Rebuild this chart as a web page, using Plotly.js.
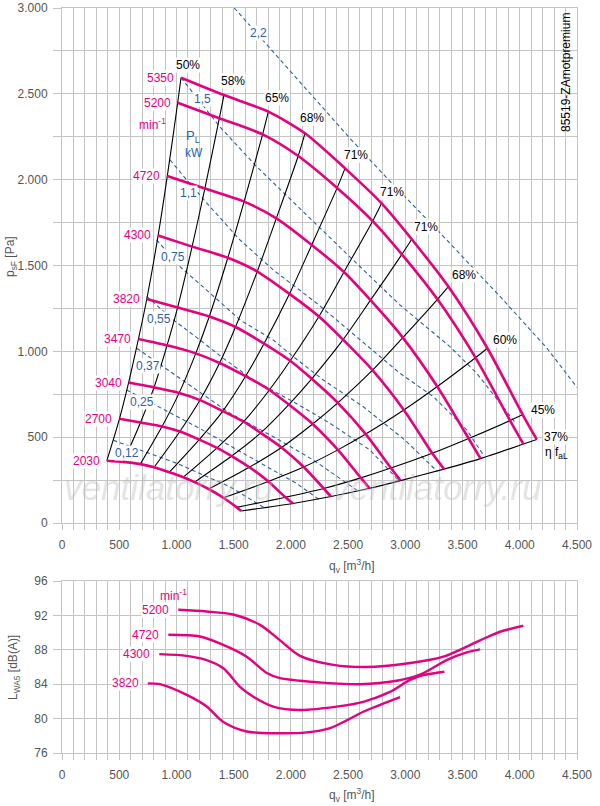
<!DOCTYPE html>
<html><head><meta charset="utf-8">
<script src="https://cdn.plot.ly/plotly-3.0.1.min.js"></script>
<style>html,body{margin:0;padding:0;background:#fff}</style>
</head><body><div id="chart" style="width:600px;height:806px"></div>
<script>
// ---- speed curves (top chart), points at the efficiency-line intersections ----
const speeds = ['5350','5200','4720','4300','3820','3470','3040','2700','2030'];
const q5350 = [1040,1415,1803,2123,2473,2793,3056,3376,3717,4025,4148];
const p5350 = [2594,2493,2396,2270,2066,1862,1653,1377,1018,632,487];
const q5200 = [1011,1375,1753,2064,2404,2715,2970,3281,3613,3915,4032];
const p5200 = [2448,2358,2264,2138,1952,1759,1565,1303,963,597,460];
const q4720 = [920,1248,1591,1873,2182,2464,2696,2978,3279,3553,3657];
const p4720 = [2021,1948,1872,1775,1620,1462,1298,1080,795,492,375];
const q4300 = [840,1137,1449,1706,1988,2245,2456,2713,2987,3235,3338];
const p4300 = [1675,1610,1545,1465,1335,1203,1068,890,658,406,314];
const q3820 = [741,1010,1287,1516,1766,1994,2182,2410,2654,2874,2958];
const p3820 = [1305,1255,1203,1142,1045,945,840,700,518,320,247];
const q3470 = [668,918,1169,1377,1604,1812,1982,2190,2411,2611,2688];
const p3470 = [1072,1035,988,932,855,775,690,577,426,263,202];
const q3040 = [582,804,1024,1206,1405,1587,1736,1918,2112,2287,2350];
const p3040 = [818,790,758,716,652,590,525,440,326,201,154];
const q2700 = [502,686,874,1030,1199,1355,1482,1637,1803,1952,2018];
const p2700 = [607,585,562,533,486,438,390,325,242,150,114];
const q2030 = [392,537,684,805,938,1060,1159,1281,1410,1527,1566];
const p2030 = [363,356,343,325,296,267,238,198,147,91,70];
const speedQ = [q5350,q5200,q4720,q4300,q3820,q3470,q3040,q2700,q2030];
const speedP = [p5350,p5200,p4720,p4300,p3820,p3470,p3040,p2700,p2030];

// ---- efficiency lines labels (one per intersection column) ----
const effLabels = ['50%','58%','65%','68%','71%','71%','71%','68%','60%','45%','37%'];
const effLabelQ = [1101,1494,1879,2185,2569,2884,3181,3513,3871,4203,4317];
const effLabelP = [2668,2575,2476,2359,2144,1928,1724,1445,1066,658,501];

// ---- power lines P_L [kW] ----
const powLabels = ['2,2','1,5','1,1','0,75','0,55','0,37','0,25','0,12'];
const pw22q = [1505,2080,2517,2866,3303,3827,4235,4500];
const pw22p = [3000,2565,2240,1990,1690,1320,1020,790];
const pw15q = [1040,1381,1701,2080,2500,2953,3390,3624,3827,3960];
const pw15p = [2594,2307,2076,1830,1560,1270,1027,872,698,585];
const pw11q = [944,1090,1293,1555,1846,2226,2953,3245,3537,3682];
const pw11p = [2115,1998,1843,1649,1474,1280,872,736,542,396];
const pw075q = [827,1031,1264,1555,1846,2021,2283,2633,2997,3128,3280];
const pw075p = [1649,1493,1357,1183,1066,969,833,677,483,400,300];
const pw055q = [740,973,1206,1410,1672,2051,2342,2691,2939];
const pw055p = [1320,1183,1066,959,833,695,581,425,250];
const pw037q = [653,1000,1468,1846,2196,2575];
const pw037p = [1018,857,639,503,367,192];
const pw025q = [565,900,1206,1468,1789,2051,2260];
const pw025p = [775,655,550,450,330,230,130];
const pw012q = [448,1002,1468,1774];
const pw012p = [482,348,211,86];
const powQ = [pw22q,pw15q,pw11q,pw075q,pw055q,pw037q,pw025q,pw012q];
const powP = [pw22p,pw15p,pw11p,pw075p,pw055p,pw037p,pw025p,pw012p];
const powLabelQ = [1713,1224,1101,970,850,753,695,566];
const powLabelP = [2854,2470,1922,1550,1188,914,705,408];

// ---- sound power (bottom chart) ----
const lwSpeeds = ['5200','4720','4300','3820'];
const qL5200 = [1016,1264,1497,1730,1905,2080,2371,2662,3012,3332,3653,3827,4031];
const L5200  = [92.65,92.45,92.1,90.9,89.1,87.3,86.25,86.0,86.4,87.2,89.1,90.1,90.8];
const qL4720 = [929,1206,1439,1614,1789,1905,2080,2254,2604,2925,3128,3361,3536,3653];
const L4720  = [89.75,89.55,88.4,87.2,85.3,84.7,84.4,84.2,84.0,84.4,85.1,86.8,87.7,88.05];
const qL4300 = [850,1090,1264,1410,1555,1672,1846,2080,2429,2633,2866,3041,3157,3341];
const L4300  = [87.5,87.3,86.8,85.85,83.7,82.55,81.4,81.0,81.45,81.95,83.1,84.5,85.05,85.45];
const qL3820 = [749,856,1090,1264,1410,1614,1876,2138,2342,2488,2633,2954];
const L3820  = [84.1,84.0,82.75,81.4,79.6,78.5,78.3,78.4,78.9,79.8,80.8,82.5];
const lwQ = [qL5200,qL4720,qL4300,qL3820];
const lwL = [L5200,L4720,L4300,L3820];

// ---- styles ----
const MAG = '#e5007d', BLUE = '#2f5ea8', GRID = '#c4c4c4', TXT = '#555555';
const FONT = 'Liberation Sans, Arial, Helvetica, sans-serif';

const traces = [];
powQ.forEach((q,i)=>traces.push({x:q,y:powP[i],xaxis:'x',yaxis:'y',mode:'lines',hoverinfo:'skip',
  line:{color:BLUE,width:1.1,dash:'4px,3px'}}));
effLabels.forEach((lab,j)=>traces.push({x:speedQ.map(a=>a[j]),y:speedP.map(a=>a[j]),xaxis:'x',yaxis:'y',
  mode:'lines',hoverinfo:'skip',line:{color:'#000',width:1.1,shape:'spline',smoothing:0.8}}));
speedQ.forEach((q,i)=>traces.push({x:q,y:speedP[i],xaxis:'x',yaxis:'y',mode:'lines',hoverinfo:'skip',
  line:{color:MAG,width:2.6,shape:'spline',smoothing:0.7}}));
lwQ.forEach((q,i)=>traces.push({x:q,y:lwL[i],xaxis:'x2',yaxis:'y2',mode:'lines',hoverinfo:'skip',
  line:{color:MAG,width:2.4,shape:'spline',smoothing:0.8}}));

const ann = [];
function A(o){ann.push(Object.assign({showarrow:false,xanchor:'center',yanchor:'middle',
  font:{family:FONT,size:12,color:'#000'}},o));}
speeds.forEach((s,i)=>A({xref:'x',yref:'y',x:speedQ[i][0],y:speedP[i][0],text:s,xanchor:'right',
  xshift:-6,font:{family:FONT,size:12,color:MAG},bgcolor:'white',borderpad:0}));
A({xref:'x',yref:'y',x:795,y:2324,text:'min<sup>-1</sup>',font:{family:FONT,size:12,color:MAG}});
effLabels.forEach((t,j)=>A({xref:'x',yref:'y',x:effLabelQ[j],y:effLabelP[j],text:t,bgcolor:'white',borderpad:0}));
A({xref:'x',yref:'y',x:4325,y:408,text:'η f<sub>aL</sub>',font:{family:FONT,size:12,color:'#000'}});
powLabels.forEach((t,i)=>A({xref:'x',yref:'y',x:powLabelQ[i],y:powLabelP[i],text:t,bgcolor:'white',borderpad:0,
  font:{family:FONT,size:12,color:BLUE}}));
A({xref:'x',yref:'y',x:1143,y:2254,text:'P<sub>L</sub>',font:{family:FONT,size:13,color:BLUE}});
A({xref:'x',yref:'y',x:1157,y:2155,text:'kW',font:{family:FONT,size:12,color:BLUE}});
A({xref:'paper',yref:'paper',x:(566-62)/515,y:(753-73)/745,text:'85519-ZAmotpremium',textangle:-90,
  font:{family:FONT,size:12,color:'#000'}});
A({xref:'paper',yref:'paper',x:(168-62)/515,y:(753-487)/745,text:'<i>ventilatorry.ru</i>',
  font:{family:FONT,size:35,color:'rgba(185,185,185,0.4)'}});
A({xref:'paper',yref:'paper',x:(436-62)/515,y:(753-487)/745,text:'<i>ventilatorry.ru</i>',
  font:{family:FONT,size:35,color:'rgba(185,185,185,0.4)'}});
lwSpeeds.forEach((s,i)=>A({xref:'x2',yref:'y2',x:lwQ[i][0],y:lwL[i][0],text:s,xanchor:'right',
  xshift:-8,font:{family:FONT,size:12,color:MAG},bgcolor:'white',borderpad:0}));
A({xref:'x2',yref:'y2',x:970,y:94.4,text:'min<sup>-1</sup>',font:{family:FONT,size:12,color:MAG}});
A({xref:'paper',yref:'paper',x:(352-62)/515,y:(753-566)/745,text:'q<sub>v</sub> [m<sup>3</sup>/h]',font:{family:FONT,size:12,color:TXT}});
A({xref:'paper',yref:'paper',x:(352-62)/515,y:(753-795)/745,text:'q<sub>v</sub> [m<sup>3</sup>/h]',font:{family:FONT,size:12,color:TXT}});
A({xref:'paper',yref:'paper',x:(11-62)/515,y:(753-257)/745,text:'p<sub>sF</sub> [Pa]',textangle:-90,font:{family:FONT,size:12,color:TXT}});
A({xref:'paper',yref:'paper',x:(14-62)/515,y:(753-668)/745,text:'L<sub>WA5</sub> [dB(A)]',textangle:-90,font:{family:FONT,size:12,color:TXT}});

function xax(anchor){return {anchor:anchor,domain:[0,1],range:[0,4500],dtick:500,tick0:0,tickformat:',d',
  showgrid:true,gridcolor:GRID,gridwidth:1,zeroline:false,showline:true,mirror:true,linecolor:GRID,linewidth:1,
  ticks:'outside',ticklen:6,tickcolor:GRID,ticklabelstandoff:5,tickfont:{family:FONT,size:12,color:TXT},
  minor:{dtick:100,tick0:0,showgrid:true,gridcolor:GRID,gridwidth:1,ticks:'outside',ticklen:6,tickcolor:GRID}};}
const layout = {
  width:600,height:806,margin:{l:62,r:23,t:8,b:53},paper_bgcolor:'white',plot_bgcolor:'white',
  separators:',.',showlegend:false,font:{family:FONT,size:12,color:TXT},
  xaxis:xax('y'),
  xaxis2:xax('y2'),
  yaxis:{domain:[(753-523)/745,1],range:[0,3000],dtick:500,tick0:0,tickformat:',d',showgrid:true,gridcolor:GRID,
    zeroline:false,showline:true,mirror:true,linecolor:GRID,ticks:'outside',ticklen:8,tickcolor:GRID,ticklabelstandoff:3,
    tickfont:{family:FONT,size:12,color:TXT},
    minor:{dtick:250,tick0:0,showgrid:true,gridcolor:GRID,ticks:'outside',ticklen:8,tickcolor:GRID}},
  yaxis2:{domain:[0,(753-581)/745],range:[76,96],dtick:4,tick0:76,showgrid:true,gridcolor:GRID,
    zeroline:false,showline:true,mirror:true,linecolor:GRID,ticks:'outside',ticklen:8,tickcolor:GRID,ticklabelstandoff:3,
    tickfont:{family:FONT,size:12,color:TXT}},
  annotations:ann
};
Plotly.newPlot('chart',traces,layout,{staticPlot:true,displayModeBar:false});
</script></body></html>
